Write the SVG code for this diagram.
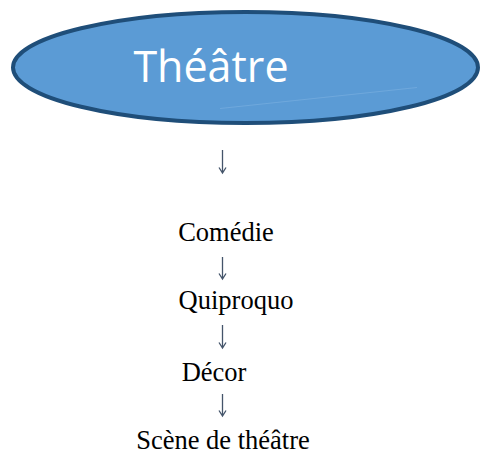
<svg xmlns="http://www.w3.org/2000/svg" width="480" height="454" viewBox="0 0 480 454">
<defs>
<style>
.lbl{font-family:"Liberation Serif","Times New Roman",serif;font-size:26.5px;fill:#000}
.title{font-family:"Open Sans","Liberation Sans",sans-serif;font-size:43px;fill:#fff}
.arr{stroke:#44546A;stroke-width:1.3;fill:none}
</style>
</defs>
<rect width="480" height="454" fill="#fff"/>
<g id="node-theatre">
<ellipse cx="245.5" cy="67.5" rx="232.5" ry="55.5" fill="#5B9BD5" stroke="#1F4E79" stroke-width="4"/>
<line x1="220" y1="108.5" x2="417" y2="87.5" stroke="#6FA8DC" stroke-width="1.2"/>
<text class="title" x="211" y="82" text-anchor="middle">Théâtre</text>
</g>
<g id="node-comedie"><text class="lbl" x="226" y="241" text-anchor="middle">Comédie</text></g>
<g id="node-quiproquo"><text class="lbl" x="236" y="309" text-anchor="middle">Quiproquo</text></g>
<g id="node-decor"><text class="lbl" x="214" y="381" text-anchor="middle">Décor</text></g>
<g id="node-scene"><text class="lbl" x="223" y="449" text-anchor="middle">Scène de théâtre</text></g>
<g id="connectors" class="arr">
<path d="M222.5 150V173M219 167.5l3.5 5.5l3.5-5.5"/>
<path d="M222.5 257V279M219 273.5l3.5 5.5l3.5-5.5"/>
<path d="M222.5 325V348M219 342.5l3.5 5.5l3.5-5.5"/>
<path d="M222.5 394V416M219 410.5l3.5 5.5l3.5-5.5"/>
</g>
</svg>
